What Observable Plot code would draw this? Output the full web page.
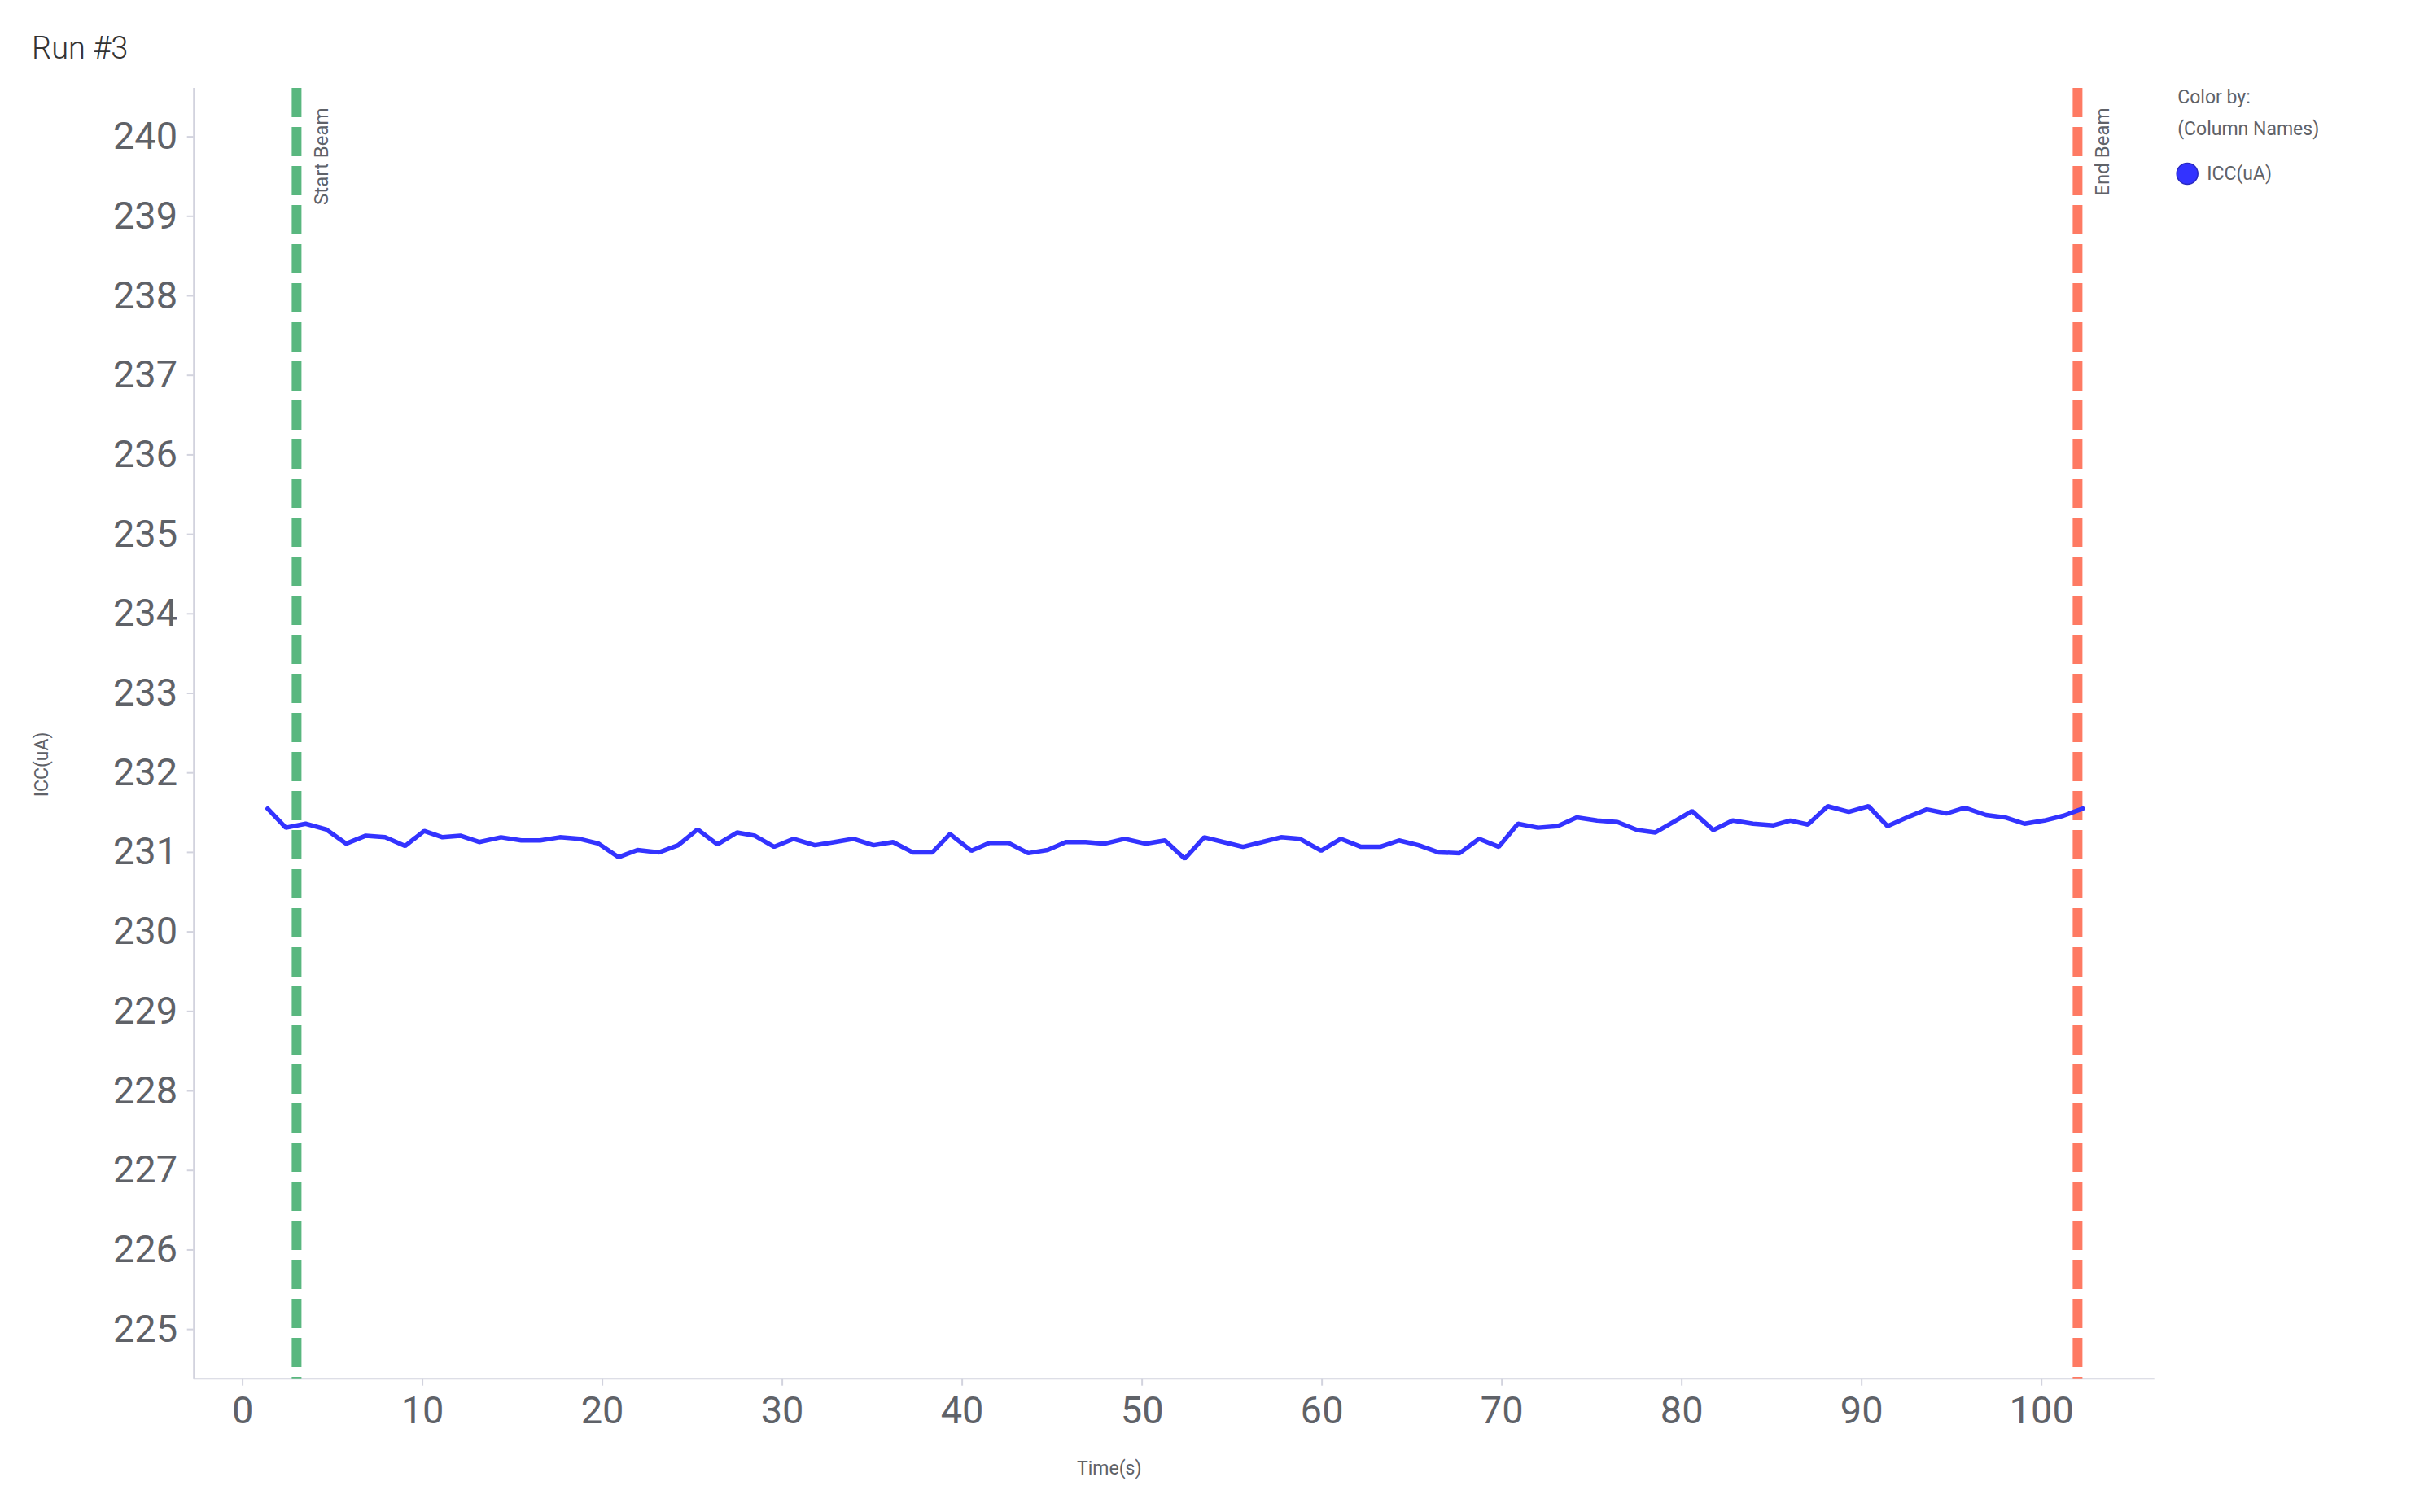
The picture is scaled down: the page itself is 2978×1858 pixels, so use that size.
<!DOCTYPE html>
<html>
<head>
<meta charset="utf-8">
<script src="https://cdn.jsdelivr.net/npm/d3@7"></script>
<script src="https://cdn.jsdelivr.net/npm/@observablehq/plot@0.6"></script>
<style>
  html, body { margin: 0; padding: 0; background: #fff; overflow: hidden; }
  #wrap { position: relative; width: 2978px; height: 1858px; }
  #title { position: absolute; left: 39px; top: 40px; font-family: Roboto, sans-serif; font-weight: 300; font-size: 38px; line-height: 38px; color: #333; }
  #chart { position: absolute; left: 0; top: 0; }
</style>
</head>
<body>
<div id="wrap">
  <div id="chart"></div>
  <div id="title">Run #3</div>
</div>
<script>
// ---- data ----
const timeS = [1.39,2.40,3.50,4.63,5.76,6.85,7.92,9.03,10.09,11.11,
  12.10,13.15,14.36,15.49,16.54,17.63,18.73,19.79,20.89,21.95,
  23.15,24.21,25.29,26.39,27.48,28.46,29.55,30.63,31.81,32.90,
  33.96,35.07,36.15,37.25,38.34,39.32,40.50,41.51,42.56,43.67,
  44.75,45.76,46.86,47.92,49.02,50.18,51.27,52.37,53.45,54.52,
  55.61,56.67,57.72,58.78,59.95,61.04,62.17,63.23,64.28,65.37,
  66.47,67.65,68.73,69.83,70.89,72.00,73.10,74.16,75.29,76.43,
  77.53,78.53,79.59,80.57,81.75,82.83,83.96,85.10,86.03,87.01,
  88.11,89.28,90.38,91.43,92.52,93.62,94.71,95.73,96.91,97.96,
  99.05,100.15,101.20,102.29];
const iccUA = [231.55,231.31,231.36,231.29,231.11,231.21,231.19,231.08,231.27,231.19,
  231.21,231.13,231.19,231.15,231.15,231.19,231.17,231.11,230.94,231.03,
  231.00,231.09,231.29,231.10,231.25,231.21,231.07,231.17,231.09,231.13,
  231.17,231.09,231.13,231.00,231.00,231.23,231.02,231.12,231.12,230.99,
  231.03,231.13,231.13,231.11,231.17,231.11,231.15,230.92,231.19,231.13,
  231.07,231.13,231.19,231.17,231.02,231.17,231.07,231.07,231.15,231.09,
  231.00,230.99,231.17,231.07,231.36,231.31,231.33,231.44,231.40,231.38,
  231.28,231.25,231.39,231.52,231.28,231.40,231.36,231.34,231.40,231.35,
  231.58,231.51,231.58,231.33,231.44,231.54,231.49,231.56,231.47,231.44,
  231.36,231.40,231.46,231.55];
const beamMarkers = [
  {t: 3.0, label: "Start Beam"},
  {t: 102.0, label: "End Beam"}
];
const xTicks = [0,10,20,30,40,50,60,70,80,90,100];
const yTicks = [225,226,227,228,229,230,231,232,233,234,235,236,237,238,239,240];
const xDomain = [-2.71, 106.29];
const yDomain = [224.38, 240.61];
const seriesName = "ICC(uA)";
const xLabel = "Time(s)";
const yLabel = "ICC(uA)";

// ---- styles ----
const lineColor = "#3333ff";
const startColor = "#59b77f";
const endColor = "#fe7a63";
const axisColor = "#d2d3de";
const textColor = "#5f6268";

const rows = timeS.map((t, i) => ({t, v: iccUA[i]}));

const chart = Plot.plot({
  width: 2978,
  height: 1858,
  marginTop: 108,
  marginBottom: 164.3,
  marginLeft: 237.7,
  marginRight: 331.3,
  style: {fontFamily: "Roboto, sans-serif", background: "#fff"},
  x: {domain: xDomain},
  y: {domain: yDomain},
  marks: [
    Plot.axisY({ticks: yTicks, tickSize: 8, tickPadding: 12, fontSize: 47, stroke: axisColor, fill: textColor, strokeWidth: 2, label: null}),
    Plot.axisX({ticks: xTicks, tickSize: 9, tickPadding: 12, fontSize: 47, stroke: axisColor, fill: textColor, strokeWidth: 2, label: null}),
    Plot.ruleX([xDomain[0]], {stroke: axisColor, strokeWidth: 2}),
    Plot.ruleY([yDomain[0]], {stroke: axisColor, strokeWidth: 2}),
    Plot.ruleX([beamMarkers[0]], {x: "t", stroke: startColor, strokeWidth: 12, strokeDasharray: "36,12"}),
    Plot.ruleX([beamMarkers[1]], {x: "t", stroke: endColor, strokeWidth: 12, strokeDasharray: "36,12"}),
    Plot.text(beamMarkers, {x: "t", text: "label", frameAnchor: "top", rotate: -90, textAnchor: "end", lineAnchor: "middle", dx: 31, dy: 24, fontSize: 24, fill: textColor}),
    Plot.line(rows, {x: "t", y: "v", stroke: lineColor, strokeWidth: 5.5, strokeLinejoin: "miter"}),
    Plot.text([yLabel], {frameAnchor: "left", rotate: -90, textAnchor: "middle", lineAnchor: "middle", dx: -187, dy: 38, fontSize: 23, fill: textColor}),
    Plot.text([xLabel], {frameAnchor: "bottom", textAnchor: "middle", lineAnchor: "middle", dx: -80, dy: 110, fontSize: 23, fill: textColor}),
    Plot.text(["Color by:"], {frameAnchor: "top-right", textAnchor: "start", lineAnchor: "middle", dx: 28, dy: 11, fontSize: 23, fill: textColor}),
    Plot.text(["(Column Names)"], {frameAnchor: "top-right", textAnchor: "start", lineAnchor: "middle", dx: 28, dy: 50, fontSize: 23, fill: textColor}),
    Plot.dot([seriesName], {frameAnchor: "top-right", dx: 40, dy: 105, r: 13, fill: lineColor, stroke: "#2a2ac0", strokeWidth: 1.5}),
    Plot.text([seriesName], {frameAnchor: "top-right", textAnchor: "start", lineAnchor: "middle", dx: 64, dy: 105, fontSize: 23, fill: textColor})
  ]
});
document.getElementById("chart").appendChild(chart);
</script>
</body>
</html>
